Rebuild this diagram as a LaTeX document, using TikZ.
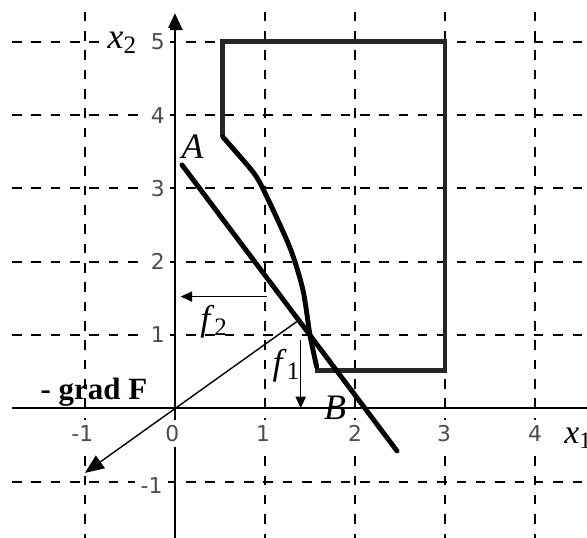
\documentclass[tikz,border=0pt]{standalone}
\usepackage{fontspec}
\setmainfont{Liberation Serif}
\newfontfamily\tickfont{DejaVu Sans}
\usepackage{tikz}
\usetikzlibrary{
  arrows.meta,
  positioning
}

\begin{document}
\begin{tikzpicture}[
    x=0.9cm, y=0.733cm,
    gridline/.style={dash pattern=on 2.7pt off 2.8pt, line width=0.6pt, black},
    axisline/.style={line width=0.6pt, black},
    ticklbl/.style={font=\tickfont\fontsize{6.2}{7}\selectfont, text=black!70, fill=white, inner sep=1.5pt},
    varlbl/.style={font=\fontsize{10.2}{12}\selectfont, inner sep=0.5pt},
    bound/.style={line width=1.4pt, black!85, line join=miter},
    heavy/.style={line width=1.4pt, black, line cap=round},
    force/.style={-{Triangle[length=3.3pt,width=2.9pt]}, line width=0.35pt, black},
  ]
  \useasboundingbox (-1.944,-1.769) rectangle (4.578,5.570);

  %% --- Grid ---
  \draw[gridline] (-1.81,5)  -- (4.578,5);
  \draw[gridline] (-1.81,4)  -- (4.578,4);
  \draw[gridline] (-1.81,3)  -- (4.578,3);
  \draw[gridline] (-1.81,2)  -- (4.578,2);
  \draw[gridline] (-1.81,1)  -- (4.578,1);
  \draw[gridline] (-1.81,-1) -- (4.578,-1);
  \draw[gridline] (-1,5.41) -- (-1,-1.769);
  \draw[gridline] (1,5.41)  -- (1,-1.769);
  \draw[gridline] (2,5.41)  -- (2,-1.769);
  \draw[gridline] (3,5.41)  -- (3,-1.769);
  \draw[gridline] (4,5.41)  -- (4,-1.769);

  %% --- Axes ---
  \draw[axisline] (-1.81,0) -- (4.578,0);
  \draw[axisline, -{Triangle[length=4.8pt,width=4.3pt]}] (0,-1.769) -- (0,5.39);

  \node[ticklbl] (ty5) at (-0.19,5)  {5};
  \node[ticklbl] (ty4) at (-0.19,4)  {4};
  \node[ticklbl] (ty3) at (-0.19,3)  {3};
  \node[ticklbl] (ty2) at (-0.19,2)  {2};
  \node[ticklbl] (ty1) at (-0.19,1)  {1};
  \node[ticklbl] (tym) at (-0.26,-1.06) {-1};
  \node[ticklbl] (txm) at (-1.03,-0.34) {-1};
  \node[ticklbl] (tx0) at (-0.03,-0.34) {0};
  \node[ticklbl] (tx1) at (0.98,-0.34)  {1};
  \node[ticklbl] (tx2) at (2,-0.34)     {2};
  \node[ticklbl] (tx3) at (2.99,-0.34)  {3};
  \node[ticklbl] (tx4) at (4,-0.34)     {4};

  \node[varlbl, fill=white] (labx2) at (-0.58,4.99) {\textit{x}\textsubscript{2}};
  \node[varlbl, anchor=west, font=\fontsize{9.6}{12}\selectfont] (labx1) at (4.3,-0.41) {\textit{x}\textsubscript{1}};

  %% --- Feasible region ---
  \draw[bound] (0.533,3.70) -- (0.533,5) -- (3,5) -- (3,0.52) -- (1.56,0.52);
  \draw[heavy] plot[smooth, tension=0.45] coordinates {(0.533,3.70) (0.867,3.224) (1.0,2.94) (1.278,2.19) (1.422,1.614) (1.5,1.0) (1.574,0.57)};

  %% --- Line AB ---
  \coordinate (Aend) at (0.078,3.32);
  \coordinate (Bend) at (2.467,-0.582);
  \draw[heavy] (Aend) -- (Bend);
  \node[varlbl] (labA) at (0.195,3.566) {\textit{A}};
  \node[varlbl] (labB) at (1.778,0.01)  {\textit{B}};

  %% --- Forces and gradient ---
  \coordinate (f2s) at (1.02,1.524);
  \coordinate (f2e) at (0.063,1.524);
  \coordinate (f1s) at (1.397,0.932);
  \coordinate (f1e) at (1.397,0.0);
  \coordinate (gs)  at (1.352,1.181);
  \coordinate (ge)  at (-1.0,-0.881);
  \draw[force] (f2s) -- (f2e);
  \draw[force] (f1s) -- (f1e);
  \draw[-{Triangle[length=5.4pt,width=4.4pt]}, line width=0.4pt] (gs) -- (ge);

  \node[varlbl] (labf2) at (0.44,1.18) {\textit{f}\textsubscript{2}};
  \node[varlbl] (labf1) at (1.244,0.58) {\textit{f}\textsubscript{1}};
  \node[anchor=base west, inner sep=0pt, font=\bfseries\fontsize{8.8}{10}\selectfont] (labgrad) at (-1.5,0.114) {- grad F};
\end{tikzpicture}
\end{document}
